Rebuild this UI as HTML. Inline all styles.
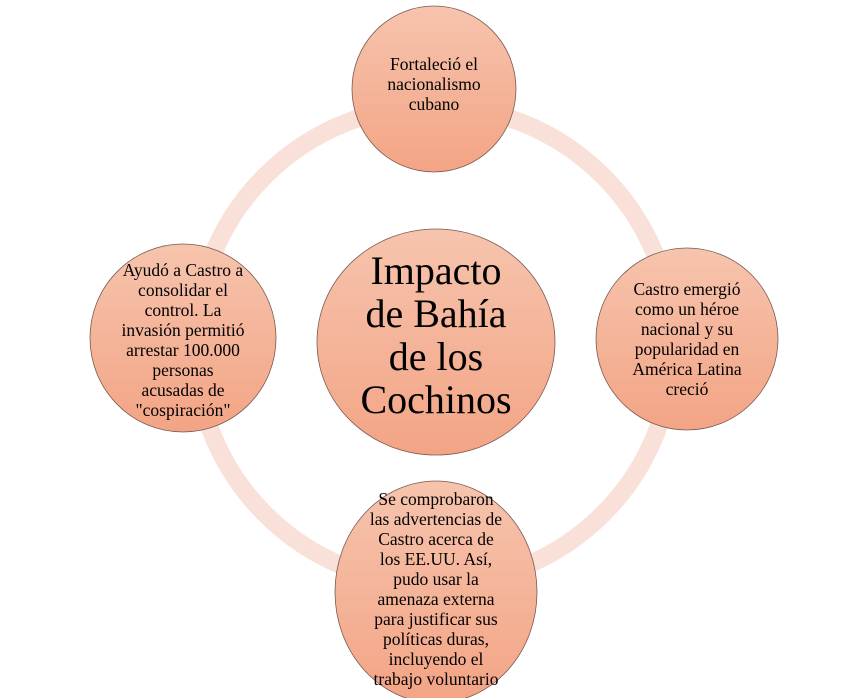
<!DOCTYPE html>
<html><head><meta charset="utf-8"><style>
html,body{margin:0;padding:0;background:#fff;}
svg{display:block;}
text{font-family:"Liberation Serif",serif;fill:#000;text-anchor:middle;}
</style></head><body>
<svg width="864" height="698" viewBox="0 0 864 698" xmlns="http://www.w3.org/2000/svg">
<defs>
<linearGradient id="g" x1="0" y1="0" x2="0" y2="1">
<stop offset="0" stop-color="#f6c4ad"/>
<stop offset="1" stop-color="#f3a485"/>
</linearGradient>
</defs>
<circle cx="434" cy="345" r="239" fill="none" stroke="#f9e0d8" stroke-width="18"/>
<ellipse cx="436" cy="342" rx="119" ry="113" fill="url(#g)" stroke="#7a5a50" stroke-width="0.8"/>
<g style="font-size:40px">
<text x="436" y="284">Impacto</text>
<text x="436" y="327">de Bahía</text>
<text x="436" y="370">de los</text>
<text x="436" y="413">Cochinos</text>
</g>
<ellipse cx="434" cy="89" rx="82" ry="83" fill="url(#g)" stroke="#7a5a50" stroke-width="0.8"/>
<g style="font-size:17.5px">
<text x="434" y="70">Fortaleció el</text>
<text x="434" y="90">nacionalismo</text>
<text x="434" y="110">cubano</text>
</g>
<ellipse cx="183" cy="338" rx="93" ry="94" fill="url(#g)" stroke="#7a5a50" stroke-width="0.8"/>
<g style="font-size:17.5px">
<text x="183" y="276">Ayudó a Castro a</text>
<text x="183" y="296">consolidar el</text>
<text x="183" y="316">control. La</text>
<text x="183" y="336">invasión permitió</text>
<text x="183" y="356">arrestar 100.000</text>
<text x="183" y="376">personas</text>
<text x="183" y="396">acusadas de</text>
<text x="183" y="416">"cospiración"</text>
</g>
<ellipse cx="687" cy="339" rx="91" ry="91" fill="url(#g)" stroke="#7a5a50" stroke-width="0.8"/>
<g style="font-size:17.5px">
<text x="687" y="295">Castro emergió</text>
<text x="687" y="315">como un héroe</text>
<text x="687" y="335">nacional y su</text>
<text x="687" y="355">popularidad en</text>
<text x="687" y="375">América Latina</text>
<text x="687" y="395">creció</text>
</g>
<ellipse cx="436" cy="592" rx="101" ry="111" fill="url(#g)" stroke="#7a5a50" stroke-width="0.8"/>
<g style="font-size:17.5px">
<text x="436" y="505">Se  comprobaron</text>
<text x="436" y="525">las advertencias de</text>
<text x="436" y="545">Castro acerca de</text>
<text x="436" y="565">los EE.UU.  Así,</text>
<text x="436" y="585">pudo usar la</text>
<text x="436" y="605">amenaza externa</text>
<text x="436" y="625">para justificar sus</text>
<text x="436" y="645">políticas duras,</text>
<text x="436" y="665">incluyendo el</text>
<text x="436" y="685">trabajo voluntario</text>
</g>
</svg>
</body></html>
